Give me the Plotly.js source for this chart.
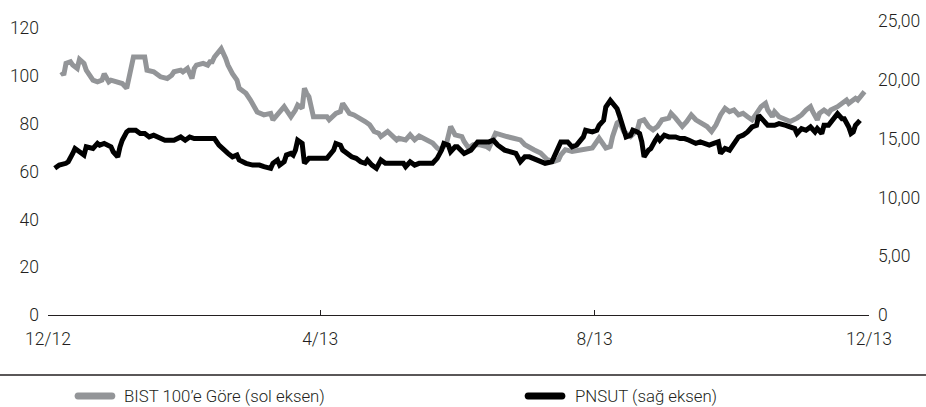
<!DOCTYPE html>
<html>
<head>
<meta charset="utf-8">
<script src="https://cdn.plot.ly/plotly-3.0.1.min.js"></script>
<style>
  html, body { margin: 0; padding: 0; background: #fff; }
  #chart { width: 926px; height: 407px; }
</style>
</head>
<body>
<div id="chart"></div>
<script>
// ---- Data ----
const bistDates = [
  "2012-12-07","2012-12-08","2012-12-09","2012-12-11","2012-12-12","2012-12-14","2012-12-15","2012-12-17","2012-12-18","2012-12-20",
  "2012-12-21","2012-12-23","2012-12-25","2012-12-26","2012-12-28","2012-12-29","2013-01-01","2013-01-03","2013-01-05","2013-01-07",
  "2013-01-08","2013-01-11","2013-01-13","2013-01-14","2013-01-17","2013-01-20","2013-01-23","2013-01-25","2013-01-26","2013-01-29",
  "2013-01-30","2013-02-01","2013-02-03","2013-02-04","2013-02-05","2013-02-08","2013-02-10","2013-02-11","2013-02-12","2013-02-13",
  "2013-02-15","2013-02-16","2013-02-18","2013-02-19","2013-02-21","2013-02-23","2013-02-24","2013-02-27","2013-03-01","2013-03-03",
  "2013-03-04","2013-03-07","2013-03-10","2013-03-11","2013-03-13","2013-03-16","2013-03-17","2013-03-19","2013-03-21","2013-03-22",
  "2013-03-24","2013-03-25","2013-03-26","2013-03-27","2013-03-29","2013-03-30","2013-04-04","2013-04-05","2013-04-08","2013-04-10",
  "2013-04-11","2013-04-12","2013-04-14","2013-04-16","2013-04-19","2013-04-21","2013-04-23","2013-04-25","2013-04-27","2013-04-28",
  "2013-05-01","2013-05-03","2013-05-05","2013-05-06","2013-05-09","2013-05-11","2013-05-13","2013-05-15","2013-05-18","2013-05-21",
  "2013-05-23","2013-05-24","2013-05-27","2013-05-29","2013-05-31","2013-06-03","2013-06-04","2013-06-06","2013-06-08","2013-06-11",
  "2013-06-14","2013-06-15","2013-06-18","2013-06-20","2013-06-23","2013-06-26","2013-06-29","2013-07-01","2013-07-03","2013-07-05",
  "2013-07-08","2013-07-11","2013-07-14","2013-07-16","2013-07-17","2013-07-19","2013-07-22","2013-07-26","2013-07-28","2013-07-31",
  "2013-08-02","2013-08-03","2013-08-06","2013-08-08","2013-08-09","2013-08-11","2013-08-12","2013-08-14","2013-08-17","2013-08-20",
  "2013-08-21","2013-08-23","2013-08-25","2013-08-27","2013-08-29","2013-08-31","2013-09-03","2013-09-04","2013-09-06","2013-09-09",
  "2013-09-11","2013-09-13","2013-09-15","2013-09-18","2013-09-20","2013-09-22","2013-09-24","2013-09-26","2013-09-28","2013-09-30",
  "2013-10-02","2013-10-04","2013-10-06","2013-10-08","2013-10-10","2013-10-12","2013-10-14","2013-10-16","2013-10-17","2013-10-19",
  "2013-10-20","2013-10-22","2013-10-25","2013-10-27","2013-10-30","2013-11-01","2013-11-03","2013-11-05","2013-11-06","2013-11-08",
  "2013-11-09","2013-11-11","2013-11-13","2013-11-14","2013-11-17","2013-11-19","2013-11-21","2013-11-22","2013-11-25","2013-11-26",
  "2013-11-28","2013-11-29"
];
const bistValues = [
  101.8,100.4,105.3,106,104.6,103.2,107,105.3,102.5,99.7,
  98.3,97.6,98.3,101,97.6,98.3,97.6,96.9,94.9,103.9,
  108,108,108,102.5,101.8,99.7,99,100.4,101.8,102.5,
  101.8,103.2,99,103.2,104.6,105.3,104.6,106,106,108,
  110,111.5,107.4,104.6,101,98.3,94.9,92.8,90,86.5,
  85,83.75,84.4,81.7,83.75,87.2,85.8,83,85.8,87.9,
  86.5,94.9,92.8,91.4,83,83,83,81.7,84.4,85.1,
  88.6,87.2,84.4,83.75,82.4,81,79.6,76.8,76.1,74.7,
  76.8,74.7,73.3,74,73.3,75.4,73.3,74.9,73.3,72,
  69.9,69.2,71.25,78.9,75.4,74.7,72.6,69.9,71.25,71.25,
  70.5,69.9,76.1,75.4,74.7,74,73.3,71.25,70.5,69.2,
  67.8,65,64.3,65,67,69.2,68.5,69.2,69.9,69.9,
  72.6,74,69.9,70.5,74.7,80.3,81,76.8,74.7,77.5,
  81,81.7,78.9,77.5,78.9,81.7,82.4,84.4,82.4,78.9,
  81,83.75,81.7,80.3,78.9,76.8,79.6,83.75,86.5,85.1,
  85.8,83.75,84.4,83,81.7,84.4,87.2,88.6,85.8,83,
  85.1,83,81.7,81,82.4,83.75,85.8,87.2,85.1,81.7,
  84.4,85.8,84.4,85.8,87.2,88.6,90,88.6,90.7,90,
  92.8,93.5
];

const pnsutDates = [
  "2012-12-04","2012-12-06","2012-12-09","2012-12-10","2012-12-12","2012-12-13","2012-12-15","2012-12-17","2012-12-18","2012-12-20",
  "2012-12-21","2012-12-23","2012-12-24","2012-12-26","2012-12-29","2012-12-30","2013-01-01","2013-01-02","2013-01-03","2013-01-05",
  "2013-01-06","2013-01-09","2013-01-11","2013-01-13","2013-01-15","2013-01-17","2013-01-20","2013-01-22","2013-01-26","2013-01-29",
  "2013-01-31","2013-02-02","2013-02-04","2013-02-13","2013-02-15","2013-02-17","2013-02-19","2013-02-21","2013-02-23","2013-02-24",
  "2013-02-27","2013-03-02","2013-03-05","2013-03-07","2013-03-10","2013-03-11","2013-03-13","2013-03-14","2013-03-16","2013-03-17",
  "2013-03-19","2013-03-20","2013-03-21","2013-03-22","2013-03-24","2013-03-25","2013-03-27","2013-04-04","2013-04-07","2013-04-08",
  "2013-04-10","2013-04-11","2013-04-13","2013-04-15","2013-04-17","2013-04-19","2013-04-21","2013-04-22","2013-04-24","2013-04-26",
  "2013-04-28","2013-04-30","2013-05-03","2013-05-08","2013-05-09","2013-05-11","2013-05-13","2013-05-15","2013-05-21","2013-05-23",
  "2013-05-25","2013-05-26","2013-05-28","2013-05-29","2013-05-31","2013-06-01","2013-06-04","2013-06-07","2013-06-10","2013-06-12",
  "2013-06-15","2013-06-17","2013-06-19","2013-06-22","2013-06-24","2013-06-27","2013-06-29","2013-07-01","2013-07-03","2013-07-05",
  "2013-07-08","2013-07-10","2013-07-13","2013-07-15","2013-07-17","2013-07-20","2013-07-22","2013-07-24","2013-07-27","2013-07-28",
  "2013-07-31","2013-08-02","2013-08-03","2013-08-05","2013-08-06","2013-08-08","2013-08-09","2013-08-11","2013-08-12","2013-08-13",
  "2013-08-14","2013-08-15","2013-08-17","2013-08-18","2013-08-20","2013-08-21","2013-08-22","2013-08-23","2013-08-25","2013-08-26",
  "2013-08-28","2013-08-29","2013-08-30","2013-09-01","2013-09-03","2013-09-06","2013-09-08","2013-09-10","2013-09-12","2013-09-15",
  "2013-09-17","2013-09-19","2013-09-21","2013-09-23","2013-09-25","2013-09-26","2013-09-28","2013-09-30","2013-10-02","2013-10-04",
  "2013-10-06","2013-10-08","2013-10-10","2013-10-12","2013-10-13","2013-10-16","2013-10-17","2013-10-20","2013-10-22","2013-10-25",
  "2013-10-27","2013-10-29","2013-10-30","2013-11-01","2013-11-03","2013-11-05","2013-11-07","2013-11-08","2013-11-10","2013-11-11",
  "2013-11-13","2013-11-14","2013-11-16","2013-11-17","2013-11-19","2013-11-20","2013-11-22","2013-11-23","2013-11-24","2013-11-25",
  "2013-11-27"
];
const pnsutValues = [
  12.47,12.75,12.9,13.03,13.74,14.16,13.88,13.6,14.3,14.16,
  14.16,14.59,14.44,14.59,14.3,13.88,13.45,14.3,14.86,15.57,
  15.71,15.71,15.43,15.43,15.14,15.29,15.0,14.86,14.86,15.14,
  14.86,15.14,15.0,15.0,14.44,14.02,13.74,13.45,13.6,13.18,
  12.9,12.75,12.75,12.61,12.47,12.9,13.18,12.75,13.03,13.6,
  13.74,13.6,14.02,14.86,14.59,12.9,13.32,13.32,14.02,14.59,
  14.44,14.02,13.74,13.45,13.32,13.03,12.9,13.18,12.75,12.47,
  13.18,12.9,12.9,12.9,12.61,13.03,12.75,12.9,12.9,13.32,
  14.02,14.59,14.44,13.88,14.3,14.3,13.74,14.02,14.72,14.72,
  14.72,14.86,14.44,14.02,13.88,13.74,13.03,13.45,13.45,13.32,
  13.03,12.9,13.03,14.02,14.72,14.72,14.3,14.44,15.14,15.71,
  15.57,15.71,16.13,16.55,17.68,18.24,17.96,17.54,16.98,16.41,
  15.57,15.14,15.29,15.71,15.57,15.43,14.72,13.45,14.02,14.16,
  14.86,15.14,14.86,15.29,15.14,15.14,15.0,15.0,14.86,14.59,
  14.72,14.59,14.44,14.59,14.72,13.74,14.16,14.02,14.59,15.14,
  15.29,15.57,15.99,16.13,16.98,16.41,16.13,16.13,16.27,16.13,
  15.99,15.85,15.43,15.85,15.71,15.99,15.57,15.85,15.43,16.13,
  16.13,16.41,16.83,17.12,16.69,16.69,15.99,15.43,15.57,16.13,
  16.55
];

const xTickVals = ["2012-12-01","2013-04-01","2013-08-01","2013-12-01"];
const xTickText = ["12/12","4/13","8/13","12/13"];
const leftTickVals = [0,20,40,60,80,100,120];
const rightTickVals = [0,5,10,15,20,25];
const rightTickText = ["0","5,00","10,00","15,00","20,00","25,00"];
const seriesNames = ["BIST 100’e Göre (sol eksen)","PNSUT (sağ eksen)"];
const seriesColors = ["#939598","#000000"];

// ---- Chart ----
const textColor = "#231f20";
const fam = "Roboto, 'Liberation Sans', sans-serif";
const tickFont = {family: fam, size: 17.5, color: textColor, weight: 300};
const legendFont = {family: fam, size: 16.8, color: textColor, weight: 300};

const traces = [
  {
    x: bistDates, y: bistValues, name: seriesNames[0], type: "scatter", mode: "lines",
    line: {color: seriesColors[0], width: 5}, yaxis: "y", hoverinfo: "skip"
  },
  {
    x: pnsutDates, y: pnsutValues, name: seriesNames[1], type: "scatter", mode: "lines",
    line: {color: seriesColors[1], width: 5}, yaxis: "y2", hoverinfo: "skip"
  }
];

// custom legend (rounded bar sample + label), positioned below the separator
const pillPath = "M -17,-3.5 L 17,-3.5 C 21.5,-3.5 21.5,3.5 17,3.5 L -17,3.5 C -21.5,3.5 -21.5,-3.5 -17,-3.5 Z";
const legendY = -0.2755;
const legendSampleX = [0.0572, 0.6054];
const legendTextX = [0.0901, 0.6395];

const shapes = [
  {type: "line", xref: "paper", yref: "paper", x0: -0.0585, x1: 1.0694, y0: -0.2041, y1: -0.2041,
   line: {color: textColor, width: 1.5}}
];
const annotations = [];
seriesNames.forEach((name, i) => {
  shapes.push({
    type: "path", xref: "paper", yref: "paper",
    xsizemode: "pixel", ysizemode: "pixel",
    xanchor: legendSampleX[i], yanchor: legendY,
    path: pillPath, fillcolor: seriesColors[i], line: {width: 0}
  });
  annotations.push({
    xref: "paper", yref: "paper", x: legendTextX[i], y: legendY,
    xanchor: "left", yanchor: "middle", showarrow: false,
    text: name, font: legendFont
  });
});

const layout = {
  width: 926, height: 407,
  margin: {l: 48, r: 57, t: 21, b: 92, pad: 0},
  paper_bgcolor: "#ffffff", plot_bgcolor: "#ffffff",
  font: tickFont,
  showlegend: false,
  xaxis: {
    type: "date", range: ["2012-12-01","2013-12-01"],
    tickmode: "array", tickvals: xTickVals, ticktext: xTickText,
    ticks: "inside", ticklen: 5, tickwidth: 1.2, tickcolor: textColor,
    showline: true, linecolor: textColor, linewidth: 1.2,
    showgrid: false, zeroline: false, fixedrange: true,
    ticklabelstandoff: 8, automargin: false,
    tickfont: tickFont
  },
  yaxis: {
    range: [0, 123.06], tickmode: "array", tickvals: leftTickVals,
    showgrid: false, zeroline: false, showline: false, ticks: "",
    ticklabelstandoff: 8, fixedrange: true, automargin: false,
    tickfont: tickFont
  },
  yaxis2: {
    range: [0, 25], overlaying: "y", side: "right",
    tickmode: "array", tickvals: rightTickVals, ticktext: rightTickText,
    showgrid: false, zeroline: false, showline: false, ticks: "",
    ticklabelstandoff: 8, fixedrange: true, automargin: false,
    tickfont: tickFont
  },
  shapes: shapes,
  annotations: annotations
};

Plotly.newPlot("chart", traces, layout, {staticPlot: true, displayModeBar: false});
</script>
</body>
</html>
